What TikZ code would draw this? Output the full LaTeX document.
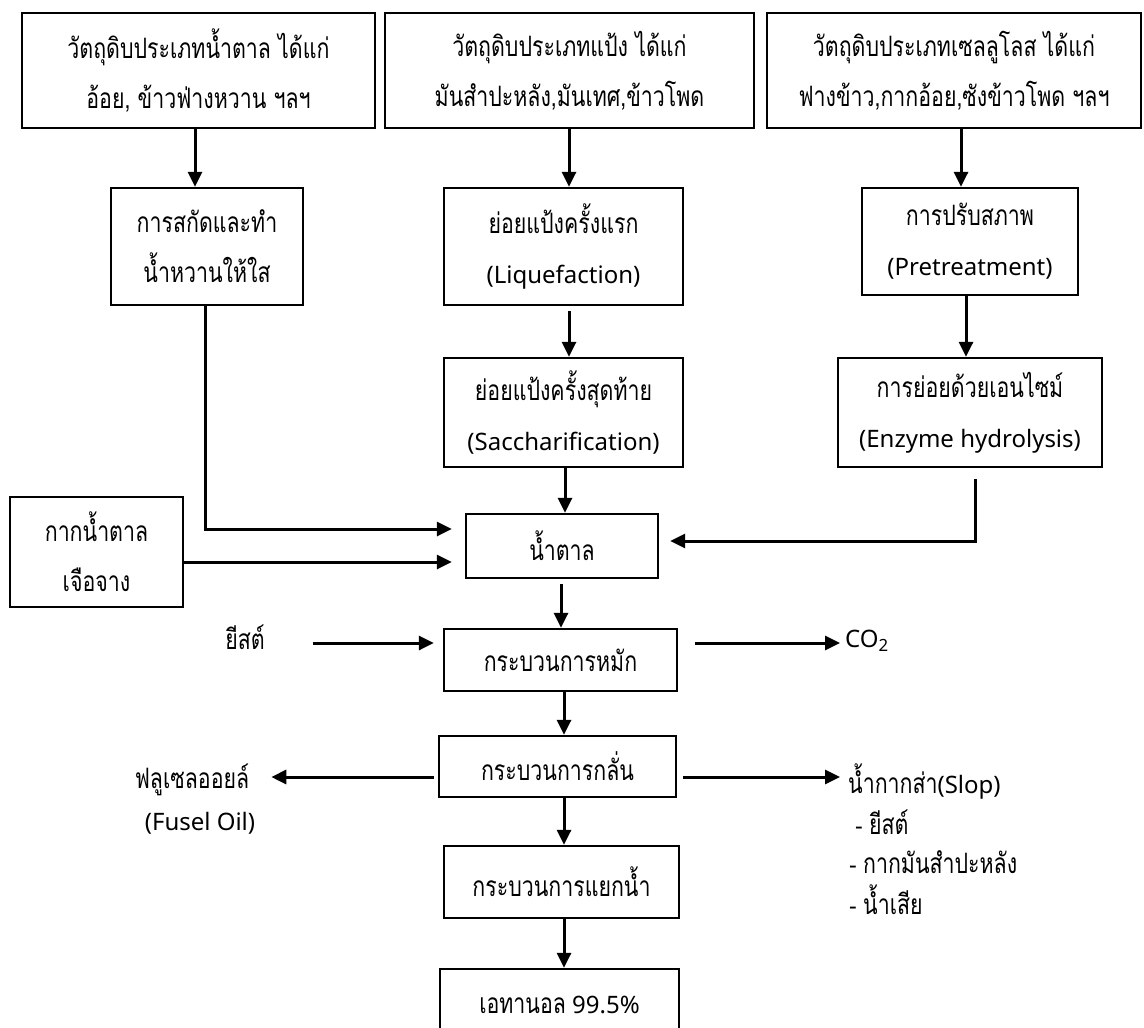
\documentclass[tikz,border=0pt]{standalone}
\usepackage{fontspec}
\setmainfont{Noto Sans}
\newfontfamily\thai[Script=Thai,FakeStretch=0.76,Scale=1.17]{Loma}
\usetikzlibrary{arrows.meta}
\begin{document}
\begin{tikzpicture}[x=1pt,y=-1pt,
  box/.style={draw,line width=2.3pt,inner sep=0pt,align=center,font=\fontsize{24}{50}\selectfont},
  lbl/.style={inner sep=0pt,font=\fontsize{24}{50}\selectfont},
  arr/.style={line width=3pt,-{Triangle[length=15pt,width=14pt]}},
  ln/.style={line width=3pt}]
\useasboundingbox (0,0) rectangle (1144,1028);
\clip (0,0) rectangle (1144,1028);
% column positions
\coordinate (xA) at (195,0);
\coordinate (xB) at (569,0);
\coordinate (xC) at (961,0);
\coordinate (xD) at (966,0);
\coordinate (xE) at (205,0);
\coordinate (xF) at (975,0);
\coordinate (xG) at (564,0);
% top row
\node[box,minimum width=353,minimum height=115] (b1) at (198.5,70.5)
  {\thai วัตถุดิบประเภทน้ำตาล ได้แก่\\\thai อ้อย, ข้าวฟ่างหวาน ฯลฯ};
\node[box,minimum width=369,minimum height=115] (b2) at (569.5,70.5)
  {\thai วัตถุดิบประเภทแป้ง ได้แก่\\\thai มันสำปะหลัง,มันเทศ,ข้าวโพด};
\node[box,minimum width=374,minimum height=115] (b3) at (954,70.5)
  {\thai วัตถุดิบประเภทเซลลูโลส ได้แก่\\\thai ฟางข้าว,กากอ้อย,ซังข้าวโพด ฯลฯ};
% second row
\node[box,minimum width=192,minimum height=117] (ex) at (207,246.5)
  {\thai การสกัดและทำ\\\thai น้ำหวานให้ใส};
\node[box,minimum width=239,minimum height=117] (liq) at (563.5,246.5)
  {\thai ย่อยแป้งครั้งแรก\\(Liquefaction)};
\node[box,minimum width=216,minimum height=107] (pre) at (970,241.5)
  {\thai การปรับสภาพ\\(Pretreatment)};
% third row
\node[box,minimum width=239,minimum height=109] (sac) at (563.5,412.5)
  {\thai ย่อยแป้งครั้งสุดท้าย\\(Saccharification)};
\node[box,minimum width=264,minimum height=109] (enz) at (970,412.5)
  {\thai การย่อยด้วยเอนไซม์\\(Enzyme hydrolysis)};
% sugar
\node[box,minimum width=192,minimum height=64] (sug) at (562,546) {\thai น้ำตาล};
\node[box,minimum width=173,minimum height=110] (mol) at (96.5,552)
  {\thai กากน้ำตาล\\\thai เจือจาง};
% fermentation
\node[box,minimum width=233,minimum height=62] (fer) at (560.5,660) {\thai กระบวนการหมัก};
\node[lbl] (ys) at (245,637) {\thai ยีสต์};
\node[lbl,anchor=west] (co2) at (845,641) {CO\textsubscript{2}};
% distillation
\node[box,minimum width=237,minimum height=61] (dis) at (557.5,766.5) {\thai กระบวนการกลั่น};
\node[lbl] (fu1) at (192,780) {\thai ฟลูเซลออยล์};
\node[lbl] (fu2) at (200,823) {(Fusel Oil)};
\node[lbl,anchor=west] (sl1) at (848,781) {{\thai น้ำกากส่า}(Slop)};
\node[lbl,anchor=west] (sl2) at (855,822) {- {\thai ยีสต์}};
\node[lbl,anchor=west] (sl3) at (849,862) {- {\thai กากมันสำปะหลัง}};
\node[lbl,anchor=west] (sl4) at (849,900) {- {\thai น้ำเสีย}};
% dehydration and product
\node[box,minimum width=235,minimum height=72] (deh) at (561.5,882) {\thai กระบวนการแยกน้ำ};
\node[box,minimum width=239,minimum height=72] (fin) at (559.5,1005) {{\thai เอทานอล} 99.5\%};
% connectors
\draw[arr] (b1.south -| xA) -- (ex.north -| xA);
\draw[arr] (b2.south -| xB) -- (liq.north -| xB);
\draw[arr] (b3.south -| xC) -- (pre.north -| xC);
\draw[arr,shorten <=5pt] (liq.south -| xB) -- (sac.north -| xB);
\draw[arr] (pre.south -| xD) -- (enz.north -| xD);
\draw[arr] (sac.south -| 565,0) -- (sug.north -| 565,0);
\draw[arr,shorten >=13pt] (ex.south -| xE) |- (sug.west |- 0,529);
\draw[arr,shorten >=13pt] (mol.east |- 0,562) -- (sug.west |- 0,562);
\draw[arr,shorten >=11pt,shorten <=11pt] (enz.south -| xF) |- (sug.east |- 0,541);
\draw[arr,shorten <=5pt] (sug.south -| 561,0) -- (fer.north -| 561,0);
\draw[arr,shorten >=9pt,shorten <=48pt] (ys.east |- 0,643) -- (fer.west |- 0,643);
\draw[arr,shorten <=17pt,shorten >=5pt] (fer.east |- 0,643) -- (co2.west |- 0,643);
\draw[arr] (fer.south -| xG) -- (dis.north -| xG);
\draw[arr,shorten <=4pt,shorten >=22pt] (dis.west |- 0,777) -- (fu1.east |- 0,777);
\draw[arr,shorten <=6pt,shorten >=8pt] (dis.east |- 0,777) -- (sl1.west |- 0,777);
\draw[arr] (dis.south -| xG) -- (deh.north -| xG);
\draw[arr] (deh.south -| xG) -- (fin.north -| xG);
\end{tikzpicture}
\end{document}
